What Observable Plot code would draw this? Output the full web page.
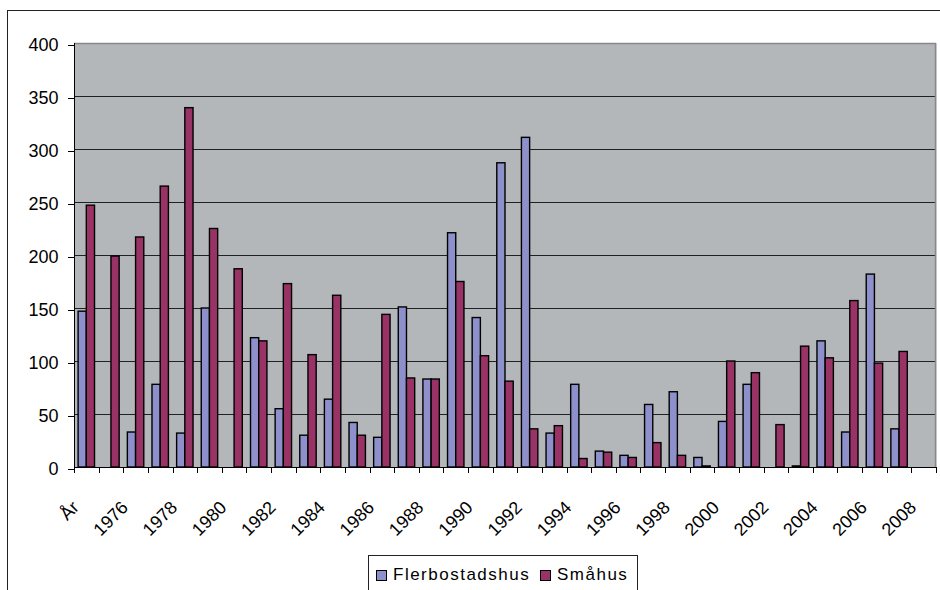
<!DOCTYPE html>
<html>
<head>
<meta charset="utf-8">
<script src="https://cdn.jsdelivr.net/npm/d3@7"></script>
<script src="https://cdn.jsdelivr.net/npm/@observablehq/plot@0.6"></script>
<style>
  html, body { margin: 0; padding: 0; background: #fff; }
  body { font-family: "Liberation Sans", Arial, sans-serif; }
  #wrap { position: relative; width: 940px; height: 590px; overflow: hidden; }
  #outer { position: absolute; left: 7px; top: 10px; width: 2000px; height: 2000px;
           border-left: 1px solid #222; border-top: 1px solid #222; }
  #chart { position: absolute; left: 0; top: 0; }
  #legend { position: absolute; left: 368px; top: 555px; width: 270px; height: 60px;
            border: 1px solid #222; background: #fff; box-sizing: border-box; }
  .item { position: absolute; top: 9px; display: flex; align-items: center;
          font-size: 17px; letter-spacing: 1.5px; color: #000; }
  .sw { width: 9px; height: 9px; border: 1px solid #000; margin-right: 6px; }
</style>
</head>
<body>
<div id="wrap">
  <div id="outer"></div>
  <div id="chart"></div>
  <div id="legend"></div>
</div>
<script>
// ---- data ----
const years = ["År","1975","1976","1977","1978","1979","1980","1981","1982","1983","1984",
  "1985","1986","1987","1988","1989","1990","1991","1992","1993","1994","1995","1996",
  "1997","1998","1999","2000","2001","2002","2003","2004","2005","2006","2007","2008"];
const flerbostadshus = [147,null,33,78,32,150,null,122,55,30,64,42,28,151,83,221,141,287,311,
  32,78,15,11,59,71,9,43,78,null,1,119,33,182,36,null];
const smahus = [247,199,217,265,339,225,187,119,173,106,162,30,144,84,83,175,105,81,36,
  39,8,14,9,23,11,1,100,89,40,114,103,157,98,109,null];
const seriesNames = ["Flerbostadshus","Småhus"];
const seriesColors = ["#8e90cb","#993366"];
const yTicks = [0,50,100,150,200,250,300,350,400];
const labelYears = years.filter((d, i) => i % 2 === 0);

// ---- layout ----
const W = 940, H = 550, ML = 74, MR = 4, MT = 43, MB = 83;
const bw = (W - ML - MR) / years.length;

const rowsF = years.map((year, i) => ({year, value: flerbostadshus[i]})).filter(d => d.value != null);
const rowsS = years.map((year, i) => ({year, value: smahus[i]})).filter(d => d.value != null);

const decorations = (index, scales, values, dims) => {
  const {x, y} = scales;
  const g = d3.create("svg:g");
  const left = dims.marginLeft, right = dims.width - dims.marginRight;
  const top = y(yTicks[yTicks.length - 1]), bottom = y(0);
  g.append("path").attr("d", `M${left},${top + 0.5}H${right - 0.5}V${bottom}`)
    .attr("fill", "none").attr("stroke", "#86898c").attr("stroke-width", 1.5);
  g.append("path").attr("d", `M${left + 0.5},${top}V${bottom + 0.5}H${right}`)
    .attr("fill", "none").attr("stroke", "#000").attr("stroke-width", 1);
  const dom = x.domain();
  const edges = dom.map(d => x(d)).concat(x(dom[dom.length - 1]) + x.bandwidth());
  for (const e of edges) {
    const ex = Math.round(e) + 0.5;
    g.append("line").attr("x1", ex).attr("x2", ex)
      .attr("y1", bottom).attr("y2", bottom + 6).attr("stroke", "#000");
  }
  return g.node();
};

const chart = Plot.plot({
  width: W, height: H,
  marginTop: MT, marginBottom: MB, marginLeft: ML, marginRight: MR,
  style: {fontFamily: '"Liberation Sans", Arial, sans-serif', fontSize: "18px", color: "#000", background: "transparent", overflow: "visible"},
  x: {domain: years, padding: 0, round: false, label: null},
  y: {domain: [0, 400], label: null},
  marks: [
    Plot.frame({fill: "#b4b7ba", stroke: null}),
    Plot.gridY(yTicks, {stroke: "#111", strokeOpacity: 0.9, strokeWidth: 1}),
    Plot.barY(rowsF, {x: "year", y: "value", fill: seriesColors[0], stroke: "#000", strokeWidth: 1.4,
      insetLeft: bw / 6, insetRight: bw / 2}),
    Plot.barY(rowsS, {x: "year", y: "value", fill: seriesColors[1], stroke: "#000", strokeWidth: 1.4,
      insetLeft: bw / 2, insetRight: bw / 6}),
    decorations,
    Plot.axisY(yTicks, {tickSize: 6, tickPadding: 10, fontSize: 18, dy: 2, stroke: "#000"}),
    Plot.axisX(labelYears, {tickSize: 0, tickPadding: 37, tickRotate: -45, textAnchor: "end",
      lineAnchor: "middle", dx: -11, fontSize: 18})
  ]
});
document.getElementById("chart").appendChild(chart);

// ---- legend ----
const legend = document.getElementById("legend");
const legendX = [7, 171];
seriesNames.forEach((name, i) => {
  const item = document.createElement("div");
  item.className = "item";
  item.style.left = legendX[i] + "px";
  const sw = document.createElement("span");
  sw.className = "sw";
  sw.style.background = seriesColors[i];
  const t = document.createElement("span");
  t.textContent = name;
  item.appendChild(sw); item.appendChild(t);
  legend.appendChild(item);
});
</script>
</body>
</html>
